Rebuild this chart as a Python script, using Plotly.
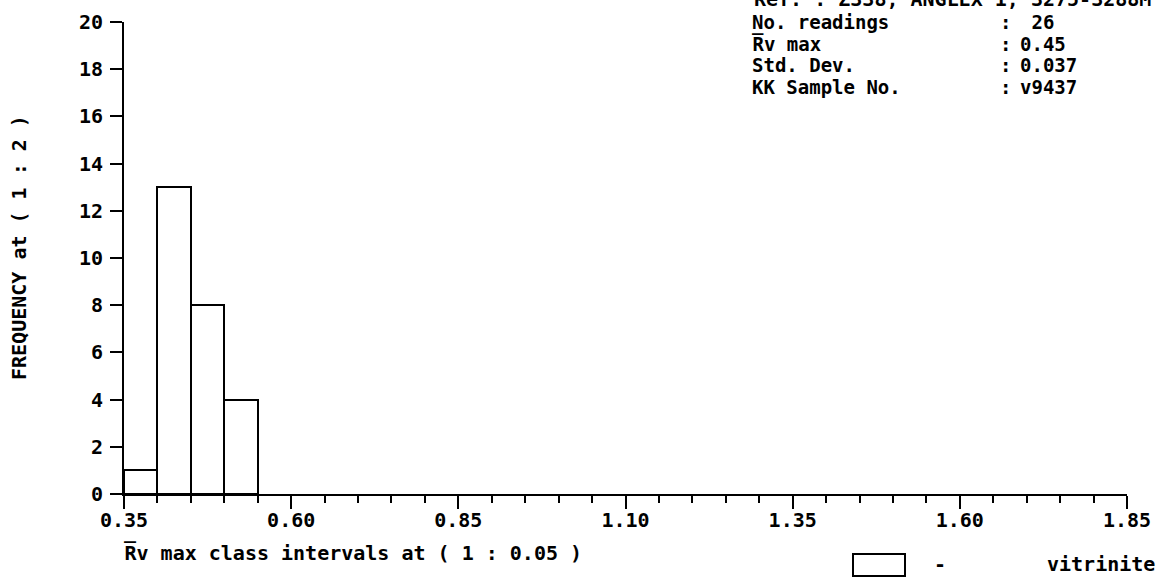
import plotly.graph_objects as go

# ---- data ----
bin_left = [0.35, 0.40, 0.45, 0.50]
bin_width = 0.05
counts = [1, 13, 8, 4]
series_name = "vitrinite"

x_range = [0.35, 1.85]
y_range = [0, 20]
x_tick_step = 0.25
y_tick_step = 2

stat_labels = ["No. readings", "R\u0305v max", "Std. Dev.", "KK Sample No."]
stat_values = [" 26", "0.45", "0.037", "v9437"]
ref_text = "Ref. : Z338, ANGLEX 1, 3275-3288M"
x_title = "R\u0305v max class intervals at ( 1 : 0.05 )"
y_title = "FREQUENCY at ( 1 : 2 )"

# ---- layout geometry (pixels) ----
W, H = 1163, 578
L, R, T, B = 124, 1127, 22, 494
FONT = "DejaVu Sans Mono"
fs = 20


def px(xp):
    return (xp - L) / (R - L)


def py(yp):
    return (B - yp) / (B - T)


centers = [b + bin_width / 2 for b in bin_left]

fig = go.Figure()
fig.add_trace(go.Bar(
    x=centers, y=counts, width=[bin_width] * len(counts),
    marker=dict(color="white", line=dict(color="black", width=2)),
    name=series_name, showlegend=False,
))

annotations = []
# stats block
rows_y = [22, 44, 65, 87]
for lab, val, yy in zip(stat_labels, stat_values, rows_y):
    for txt, xx in ((lab, 750), (":", 998), (val, 1018)):
        annotations.append(dict(text=txt, x=px(xx), y=py(yy), xanchor="left", yanchor="middle",
                                font=dict(family=FONT, size=19, color="black", weight="bold")))
# cut-off reference line at top
annotations.append(dict(text=ref_text, x=px(1153), y=py(-1), xanchor="right", yanchor="middle"))
# axis titles
annotations.append(dict(text=x_title, x=px(122), y=py(553), xanchor="left", yanchor="middle"))
annotations.append(dict(text=y_title, x=px(19), y=py(248), xanchor="center", yanchor="middle",
                        textangle=-90))
# legend
annotations.append(dict(text="-", x=px(940), y=py(564), xanchor="center", yanchor="middle"))
annotations.append(dict(text=series_name, x=px(1157), y=py(564), xanchor="right", yanchor="middle"))
for a in annotations:
    a.update(xref="paper", yref="paper", showarrow=False)
    if "font" not in a:
        a["font"] = dict(family=FONT, size=fs, color="black", weight="bold")

shapes = [dict(type="rect", xref="paper", yref="paper",
               x0=px(853), x1=px(905), y0=py(576), y1=py(554),
               line=dict(color="black", width=2), fillcolor="white")]

fig.update_layout(
    width=W, height=H,
    margin=dict(l=L, r=W - R, t=T, b=H - B, autoexpand=False),
    paper_bgcolor="white", plot_bgcolor="white",
    bargap=0,
    annotations=annotations, shapes=shapes,
    font=dict(family=FONT, size=fs, color="black", weight="bold"),
    xaxis=dict(
        range=x_range, tick0=x_range[0], dtick=x_tick_step, tickformat=".2f",
        showgrid=False, zeroline=False, showline=True, linecolor="black", linewidth=2,
        ticks="outside", ticklen=13, tickwidth=2, tickcolor="black",
        ticklabelstandoff=-6,
        tickfont=dict(family=FONT, size=fs, color="black", weight="bold"),
        minor=dict(dtick=bin_width, tick0=x_range[0], ticks="outside", ticklen=7,
                   tickwidth=2, tickcolor="black", showgrid=False),
        fixedrange=True,
    ),
    yaxis=dict(
        range=y_range, tick0=0, dtick=y_tick_step,
        showgrid=False, zeroline=False, showline=True, linecolor="black", linewidth=2,
        ticks="outside", ticklen=12, tickwidth=2, tickcolor="black",
        ticklabelstandoff=3,
        tickfont=dict(family=FONT, size=fs, color="black", weight="bold"),
        fixedrange=True,
    ),
)

fig.write_html("out.html", config={"displayModeBar": False},
               post_script="document.body.style.margin='0';document.body.style.overflow='hidden';")
